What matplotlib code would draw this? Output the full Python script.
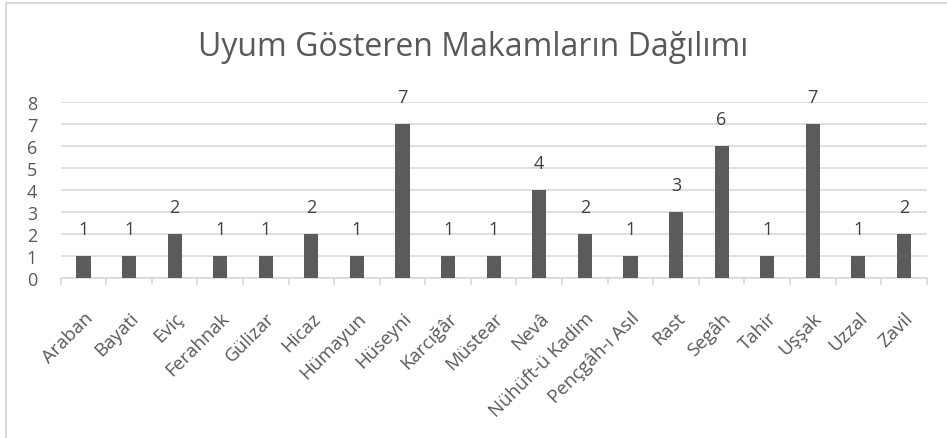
import matplotlib
matplotlib.use("Agg")
import matplotlib.pyplot as plt

categories = ["Araban", "Bayati", "Eviç", "Ferahnak", "Gülizar", "Hicaz", "Hümayun",
              "Hüseyni", "Karcığâr", "Müstear", "Nevâ", "Nühüft-ü Kadim",
              "Pençgâh-ı Asıl", "Rast", "Segâh", "Tahir", "Uşşak", "Uzzal", "Zavil"]
values = [1, 1, 2, 1, 1, 2, 1, 7, 1, 1, 4, 2, 1, 3, 6, 1, 7, 1, 2]
yticks = list(range(0, 9))
title = "Uyum Gösteren Makamların Dağılımı"

plt.rcParams['font.family'] = ['Open Sans', 'DejaVu Sans']
text_col = "#595959"
grid_col = "#d9d9d9"
bar_col = "#5b5b5b"

fig = plt.figure(figsize=(9.47, 4.39), dpi=100)
ax = fig.add_axes([60.7 / 947, 1 - 279 / 439, (926.7 - 60.7) / 947, (279 - 102.7) / 439])

x = list(range(len(categories)))
ax.bar(x, values, width=0.31, color=bar_col, zorder=3)
for xi, v in zip(x, values):
    ax.text(xi, v + 0.8, str(v), ha="center", va="bottom", fontsize=13, color="#404040", zorder=4)

ax.set_xlim(-0.5, len(categories) - 0.5)
ax.set_ylim(0, 8)
ax.set_yticks(yticks)
ax.set_yticklabels([str(t) for t in yticks], fontsize=13, color=text_col)
ax.yaxis.grid(True, color=grid_col, linewidth=1.2, zorder=0)
ax.tick_params(axis="y", length=0, pad=17)

ax.set_xticks(x)
ax.set_xticklabels(categories, rotation=45, ha="right", va="top",
                   rotation_mode="anchor", fontsize=13.5, color=text_col)
ax.set_xticks([i - 0.5 for i in range(len(categories) + 1)], minor=True)
ax.tick_params(axis="x", which="major", length=0, pad=22)
ax.tick_params(axis="x", which="minor", length=5, color=grid_col, width=1.2)
for side in ["top", "right", "left"]:
    ax.spines[side].set_visible(False)
ax.spines["bottom"].set_color(grid_col)
ax.spines["bottom"].set_linewidth(1.2)

fig.text(0.5, 1 - 48 / 439, title, ha="center", va="center", fontsize=23, color=text_col)

# chart area frame (top and left edges)
fig.add_artist(plt.Line2D([5.5 / 947, 5.5 / 947], [0, 1 - 4 / 439], transform=fig.transFigure,
                          color=grid_col, linewidth=1.5))
fig.add_artist(plt.Line2D([5.5 / 947, 1], [1 - 4 / 439, 1 - 4 / 439], transform=fig.transFigure,
                          color=grid_col, linewidth=1.5))

fig.savefig("out.png", dpi=100)
